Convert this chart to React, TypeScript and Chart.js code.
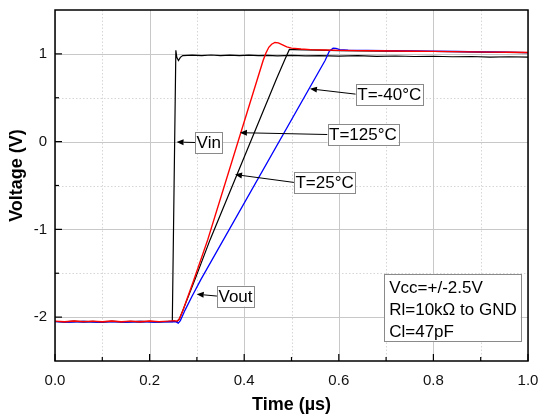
import { useEffect, useRef } from "react";
import { Chart, registerables } from "chart.js";

Chart.register(...registerables);

const FONT = '"Liberation Sans", Arial, Helvetica, sans-serif';

// ---- axis values ----
const xTickValues = [0, 0.2, 0.4, 0.6, 0.8, 1.0];
const yTickValues = [-2, -1, 0, 1];
const xMinorValues = [0.1, 0.3, 0.5, 0.7, 0.9];
const yMinorValues = [-1.5, -0.5, 0.5];
const xRange = [0, 1];
const yRange = [-2.5, 1.5];

// ---- series (time µs, voltage V) ----
const vin: [number, number][] = [
  [0.0, -2.05], [0.02, -2.055], [0.04, -2.046], [0.06, -2.054], [0.08, -2.048], [0.1, -2.056],
  [0.12, -2.047], [0.14, -2.053], [0.16, -2.049], [0.18, -2.055], [0.2, -2.047], [0.22, -2.053],
  [0.24, -2.049], [0.248, -2.05], [0.2555, 1.04], [0.2575, 0.96], [0.261, 0.925], [0.265, 0.96],
  [0.27, 0.98], [0.29, 0.985], [0.31, 0.98], [0.33, 0.987], [0.35, 0.981], [0.37, 0.986],
  [0.39, 0.979], [0.41, 0.985], [0.43, 0.98], [0.45, 0.984], [0.47, 0.978], [0.5, 0.983],
  [0.53, 0.977], [0.56, 0.981], [0.6, 0.975], [0.64, 0.979], [0.68, 0.972], [0.72, 0.976],
  [0.76, 0.97], [0.8, 0.973], [0.84, 0.967], [0.88, 0.97], [0.92, 0.964], [0.96, 0.967],
  [1.0, 0.962],
];

const vout125: [number, number][] = [
  [0.0, -2.045], [0.02, -2.052], [0.04, -2.044], [0.06, -2.051], [0.08, -2.046], [0.1, -2.053],
  [0.12, -2.045], [0.14, -2.052], [0.16, -2.046], [0.18, -2.053], [0.2, -2.045], [0.22, -2.051],
  [0.24, -2.046], [0.252, -2.04], [0.258, -2.045], [0.262, -2.03], [0.27, -1.93], [0.292, -1.6],
  [0.3228, -1.12], [0.44, 0.924], [0.446, 1.01], [0.452, 1.075], [0.458, 1.11], [0.465, 1.13],
  [0.472, 1.125], [0.48, 1.105], [0.49, 1.08], [0.5, 1.065], [0.52, 1.055], [0.54, 1.048],
  [0.57, 1.044], [0.6, 1.04], [0.64, 1.037], [0.68, 1.035], [0.72, 1.033], [0.76, 1.03],
  [0.8, 1.028], [0.84, 1.026], [0.88, 1.023], [0.92, 1.02], [0.96, 1.018], [1.0, 1.015],
];

const vout25: [number, number][] = [
  [0.0, -2.05], [0.03, -2.055], [0.06, -2.048], [0.09, -2.054], [0.12, -2.049], [0.15, -2.055],
  [0.18, -2.048], [0.21, -2.054], [0.24, -2.05], [0.258, -2.05], [0.263, -2.02], [0.272, -1.9],
  [0.296, -1.57], [0.3277, -1.12], [0.4686, 0.72], [0.486, 0.935], [0.4955, 1.05], [0.505, 1.048],
  [0.53, 1.045], [0.56, 1.042], [0.6, 1.038], [0.65, 1.035], [0.7, 1.032], [0.75, 1.03],
  [0.8, 1.027], [0.85, 1.024], [0.9, 1.021], [0.95, 1.018], [1.0, 1.014],
];

const voutM40: [number, number][] = [
  [0.0, -2.052], [0.03, -2.057], [0.06, -2.05], [0.09, -2.056], [0.12, -2.051], [0.15, -2.057],
  [0.18, -2.05], [0.21, -2.056], [0.24, -2.052], [0.256, -2.055], [0.2605, -2.068], [0.265, -2.04],
  [0.275, -1.92], [0.29, -1.76], [0.308, -1.576], [0.571, 0.924], [0.58, 1.03], [0.588, 1.065],
  [0.594, 1.062], [0.602, 1.048], [0.62, 1.042], [0.66, 1.04], [0.7, 1.037], [0.75, 1.034],
  [0.8, 1.03], [0.85, 1.027], [0.9, 1.023], [0.95, 1.019], [1.0, 1.015],
];

// ---- annotations: label, text centre (t, V), arrow tip (t, V) ----
const callouts: { text: string; tx: number; tv: number; ax: number; av: number }[] = [
  { text: "Vin", tx: 0.325, tv: -0.01, ax: 0.257, av: -0.005 },
  { text: "T=125°C", tx: 0.651, tv: 0.081, ax: 0.391, av: 0.102 },
  { text: "T=-40°C", tx: 0.7066, tv: 0.541, ax: 0.539, av: 0.602 },
  { text: "T=25°C", tx: 0.57, tv: -0.465, ax: 0.3805, av: -0.375 },
  { text: "Vout", tx: 0.3816, tv: -1.76, ax: 0.2996, av: -1.739 },
];

const infoLines = ["Vcc=+/-2.5V", "Rl=10kΩ to GND", "Cl=47pF"];
const infoAnchor = { t: 0.696, v: -1.508 };

const xTitle = "Time (µs)";
const yTitle = "Voltage (V)";

const toXY = (arr: [number, number][]) => arr.map(([x, y]) => ({ x, y }));

const decorPlugin = {
  id: "decor",
  beforeDatasetsDraw(chart: any) {
    const { ctx, chartArea: a, scales } = chart;
    const x = scales.x;
    const y = scales.y;
    ctx.save();
    ctx.lineWidth = 1;
    // minor dotted grid
    ctx.strokeStyle = "#d6d6d6";
    ctx.setLineDash([1.5, 2]);
    for (const v of xMinorValues) {
      const px = Math.round(x.getPixelForValue(v)) + 0.5;
      ctx.beginPath(); ctx.moveTo(px, a.top); ctx.lineTo(px, a.bottom); ctx.stroke();
    }
    for (const v of yMinorValues) {
      const py = Math.round(y.getPixelForValue(v)) + 0.5;
      ctx.beginPath(); ctx.moveTo(a.left, py); ctx.lineTo(a.right, py); ctx.stroke();
    }
    // major solid grid
    ctx.setLineDash([]);
    ctx.strokeStyle = "#c8c8c8";
    for (const v of xTickValues) {
      const px = Math.round(x.getPixelForValue(v)) + 0.5;
      ctx.beginPath(); ctx.moveTo(px, a.top); ctx.lineTo(px, a.bottom); ctx.stroke();
    }
    for (const v of yTickValues) {
      const py = Math.round(y.getPixelForValue(v)) + 0.5;
      ctx.beginPath(); ctx.moveTo(a.left, py); ctx.lineTo(a.right, py); ctx.stroke();
    }
    ctx.restore();
  },
  afterDatasetsDraw(chart: any) {
    const { ctx, chartArea: a, scales } = chart;
    const x = scales.x;
    const y = scales.y;
    ctx.save();
    // frame
    ctx.strokeStyle = "#000";
    ctx.lineWidth = 1.5;
    ctx.strokeRect(a.left, a.top, a.right - a.left, a.bottom - a.top);
    // inward ticks
    ctx.lineWidth = 1.2;
    const tick = (vals: number[], len: number) => {
      for (const v of vals) {
        const px = x.getPixelForValue(v);
        ctx.beginPath(); ctx.moveTo(px, a.bottom); ctx.lineTo(px, a.bottom - len); ctx.stroke();
      }
    };
    const ytick = (vals: number[], len: number) => {
      for (const v of vals) {
        const py = y.getPixelForValue(v);
        ctx.beginPath(); ctx.moveTo(a.left, py); ctx.lineTo(a.left + len, py); ctx.stroke();
      }
    };
    tick(xTickValues, 7);
    tick(xMinorValues, 4);
    ytick(yTickValues, 7);
    ytick(yMinorValues, 4);

    // callouts
    ctx.font = `17px ${FONT}`;
    ctx.textBaseline = "middle";
    ctx.textAlign = "center";
    for (const c of callouts) {
      const cx = x.getPixelForValue(c.tx);
      const cy = y.getPixelForValue(c.tv);
      const w = ctx.measureText(c.text).width + 3;
      const h = 21;
      const left = cx - w / 2;
      const top = cy - h / 2;
      const tipX = x.getPixelForValue(c.ax);
      const tipY = y.getPixelForValue(c.av);
      const tailX = left;
      const tailY = cy;
      ctx.strokeStyle = "#000";
      ctx.lineWidth = 1;
      const ang = Math.atan2(tipY - tailY, tipX - tailX);
      const hl = 7;
      const hw = 3;
      const bx = tipX - hl * Math.cos(ang);
      const by = tipY - hl * Math.sin(ang);
      ctx.beginPath(); ctx.moveTo(tailX, tailY); ctx.lineTo(bx, by); ctx.stroke();
      ctx.fillStyle = "#000";
      ctx.beginPath();
      ctx.moveTo(tipX, tipY);
      ctx.lineTo(bx + hw * Math.sin(ang), by - hw * Math.cos(ang));
      ctx.lineTo(bx - hw * Math.sin(ang), by + hw * Math.cos(ang));
      ctx.closePath();
      ctx.fill();
      ctx.fillStyle = "#fff";
      ctx.fillRect(left, top, w, h);
      ctx.strokeStyle = "#8a8a8a";
      ctx.strokeRect(Math.round(left) + 0.5, Math.round(top) + 0.5, Math.round(w), h);
      ctx.fillStyle = "#000";
      ctx.fillText(c.text, cx, cy + 1);
    }

    // info box
    const il = x.getPixelForValue(infoAnchor.t);
    const it = y.getPixelForValue(infoAnchor.v);
    ctx.textAlign = "left";
    let maxW = 0;
    for (const s of infoLines) maxW = Math.max(maxW, ctx.measureText(s).width);
    const bw = maxW + 9;
    const bh = 67;
    ctx.fillStyle = "#fff";
    ctx.fillRect(il, it, bw, bh);
    ctx.strokeStyle = "#8a8a8a";
    ctx.lineWidth = 1;
    ctx.strokeRect(Math.round(il) + 0.5, Math.round(it) + 0.5, Math.round(bw), bh);
    ctx.fillStyle = "#000";
    infoLines.forEach((s, i) => ctx.fillText(s, il + 5, it + 14.5 + i * 21.7));

    // axis titles
    ctx.font = `bold 18px ${FONT}`;
    ctx.textAlign = "center";
    ctx.textBaseline = "middle";
    ctx.fillText(xTitle, (a.left + a.right) / 2, 405);
    ctx.translate(17, (a.top + a.bottom) / 2 - 10);
    ctx.rotate(-Math.PI / 2);
    ctx.fillText(yTitle, 0, 0);
    ctx.restore();
  },
};

export default function App() {
  const ref = useRef<HTMLCanvasElement | null>(null);
  useEffect(() => {
    document.body.style.margin = "0";
    if (!ref.current) return;
    const line = (data: [number, number][], color: string, lw: number) => ({
      data: toXY(data),
      borderColor: color,
      backgroundColor: color,
      borderWidth: lw,
      pointRadius: 0,
      tension: 0,
      fill: false,
    });
    const zeroPad = (s: any) => {
      s.paddingLeft = 0;
      s.paddingRight = 0;
      s.paddingTop = 0;
      s.paddingBottom = 0;
    };
    const chart = new Chart(ref.current, {
      type: "line",
      data: {
        datasets: [
          { label: "T=125°C", ...line(vout125, "#ff0000", 1.4) },
          { label: "T=-40°C", ...line(voutM40, "#0000ff", 1.3) },
          { label: "T=25°C", ...line(vout25, "#000000", 1.2) },
          { label: "Vin", ...line(vin, "#000000", 1.2) },
        ],
      },
      options: {
        animation: false,
        responsive: false,
        maintainAspectRatio: false,
        layout: { padding: { top: 10, right: 13, left: 0, bottom: 0 } },
        plugins: { legend: { display: false }, tooltip: { enabled: false } },
        scales: {
          x: {
            type: "linear",
            min: xRange[0],
            max: xRange[1],
            afterBuildTicks: (s: any) => { s.ticks = xTickValues.map((v) => ({ value: v })); },
            afterFit: (s: any) => { s.height = 55; zeroPad(s); },
            grid: { display: false, drawTicks: false },
            border: { display: false },
            ticks: {
              padding: 11,
              color: "#111",
              font: { family: FONT, size: 15 },
              maxRotation: 0,
              callback: (v: any) => Number(v).toFixed(1),
            },
          },
          y: {
            type: "linear",
            min: yRange[0],
            max: yRange[1],
            afterBuildTicks: (s: any) => { s.ticks = yTickValues.map((v) => ({ value: v })); },
            afterFit: (s: any) => { s.width = 55; zeroPad(s); },
            grid: { display: false, drawTicks: false },
            border: { display: false },
            ticks: {
              padding: 8,
              color: "#111",
              font: { family: FONT, size: 15 },
              callback: (v: any) => String(v),
            },
          },
        },
      },
      plugins: [decorPlugin],
    } as any);
    return () => chart.destroy();
  }, []);
  return (
    <div style={{ width: 541, height: 416 }}>
      <canvas ref={ref} width={541} height={416} style={{ display: "block" }} />
    </div>
  );
}
